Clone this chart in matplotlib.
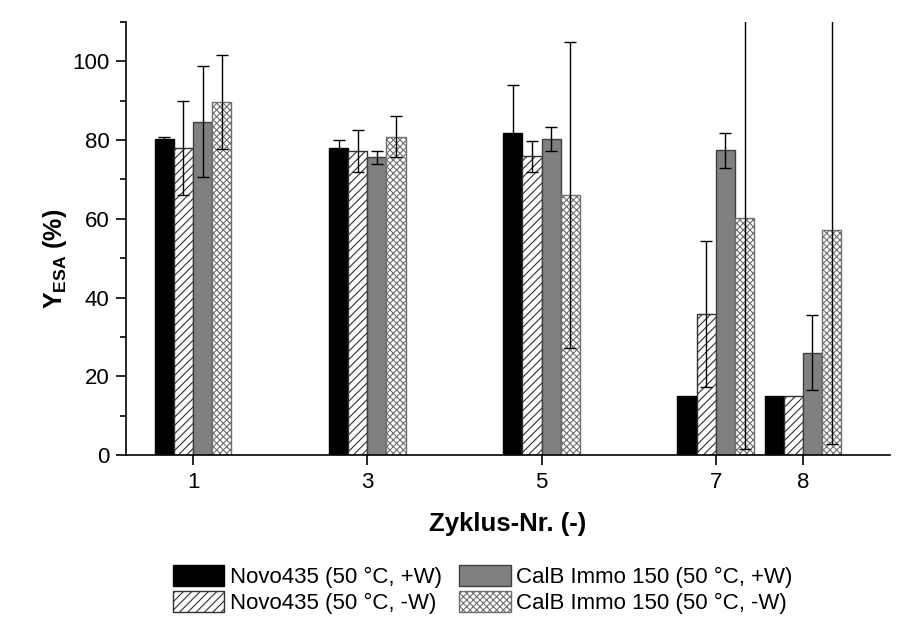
import numpy as np
import matplotlib
matplotlib.use("Agg")
import matplotlib.pyplot as plt
from matplotlib.ticker import MultipleLocator

plt.rcParams['font.family'] = ['Liberation Sans', 'DejaVu Sans']
plt.rcParams['mathtext.fontset'] = 'custom'
plt.rcParams['mathtext.rm'] = 'Liberation Sans'
plt.rcParams['mathtext.bf'] = 'Liberation Sans:bold'
plt.rcParams['hatch.linewidth'] = 0.8

# Data
cycles = [1, 3, 5, 7, 8]
labels = ['Novo435 (50 °C, +W)', 'Novo435 (50 °C, -W)',
          'CalB Immo 150 (50 °C, +W)', 'CalB Immo 150 (50 °C, -W)']

novo_w = [80.2, 78.0, 81.8, 15.0, 15.0]
novo_w_err = [0.7, 1.9, 12.2, np.nan, np.nan]
novo_nw = [78.0, 77.2, 75.9, 35.8, 15.0]
novo_nw_err = [12.0, 5.3, 3.9, 18.5, np.nan]
calb_w = [84.6, 75.6, 80.2, 77.4, 26.0]
calb_w_err = [14.1, 1.7, 3.0, 4.4, 9.6]
calb_nw = [89.7, 80.9, 66.0, 60.2, 57.1]
calb_nw_err = [11.9, 5.3, 38.8, 58.8, 54.4]

series = [novo_w, novo_nw, calb_w, calb_nw]
errors = [novo_w_err, novo_nw_err, calb_w_err, calb_nw_err]
styles = [
    dict(color='black', edgecolor='black', hatch=None),
    dict(color='white', edgecolor='#303030', hatch='////'),
    dict(color='#808080', edgecolor='#404040', hatch=None),
    dict(color='white', edgecolor='#707070', hatch='xxxxx'),
]

fig = plt.figure(figsize=(8.97, 6.18), dpi=100)
ax = fig.add_axes([126 / 897, 1 - 455 / 618, (890 - 126) / 897, (455 - 22) / 618])

width = 0.22
x = np.array(cycles, dtype=float)
handles = []
for i, (vals, errs, st) in enumerate(zip(series, errors, styles)):
    pos = x + (i - 1.5) * width
    b = ax.bar(pos, vals, width, color=st['color'], edgecolor=st['edgecolor'],
               hatch=st['hatch'], linewidth=1.0, label=labels[i], zorder=2)
    handles.append(b)
    ax.errorbar(pos, vals, yerr=errs, fmt='none', ecolor='black',
                elinewidth=1.0, capsize=4, capthick=1.0, zorder=3)

ax.set_xlim(0.23, 9.0)
ax.set_ylim(0, 110)
ax.set_xticks(cycles)
ax.set_xticklabels([str(c) for c in cycles])
ax.yaxis.set_major_locator(MultipleLocator(20))
ax.yaxis.set_minor_locator(MultipleLocator(10))
ax.set_yticks([0, 20, 40, 60, 80, 100])

for side in ['top', 'right']:
    ax.spines[side].set_visible(False)
ax.spines['left'].set_linewidth(1.2)
ax.spines['bottom'].set_linewidth(1.2)
ax.tick_params(axis='both', which='major', direction='out', length=7, width=1.2,
               labelsize=16, pad=5)
ax.tick_params(axis='y', which='minor', direction='out', length=4, width=1.2)

fig.text(508 / 897, 1 - 524 / 618, 'Zyklus-Nr. (-)', fontsize=18.5, fontweight='bold',
         ha='center', va='center')
fig.text(55 / 897, 1 - 259 / 618, r'$\mathbf{Y}_{\mathbf{ESA}}$ (%)', fontsize=18,
         fontweight='bold', rotation=90, ha='center', va='center')

fig.legend(handles=handles, labels=labels, ncol=2, loc='upper left',
           bbox_to_anchor=(173 / 897, 1 - 565 / 618), frameon=False,
           fontsize=16, handlelength=2.3, handleheight=1.08,
           columnspacing=0.8, labelspacing=0.14, handletextpad=0.25,
           borderpad=0, borderaxespad=0)

fig.savefig('out.png', dpi=100)
